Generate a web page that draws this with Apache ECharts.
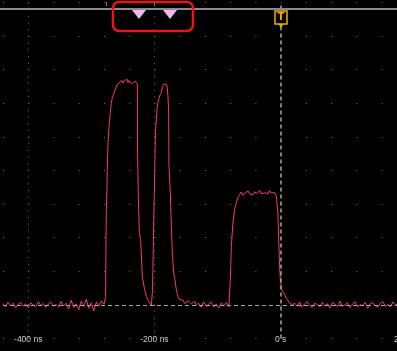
<!DOCTYPE html>
<html>
<head>
<meta charset="utf-8">
<script src="https://cdn.jsdelivr.net/npm/echarts@6/dist/echarts.min.js"></script>
<style>
  html, body { margin: 0; padding: 0; background: #000; }
  #scope { width: 397px; height: 351px; }
</style>
</head>
<body>
<div id="scope"></div>
<script>
// time in ns, level in mV (100 mV per division)
const noiseLeft = [
    [-440, 4], [-436, -6], [-432, 8], [-428, -3], [-424, 5], [-420, -9], [-416, 2], [-412, 7],
    [-408, -4], [-404, 3], [-400, -8], [-396, 6], [-392, 0], [-388, -5], [-384, 9], [-380, -2],
    [-376, 4], [-372, -7], [-368, 3], [-364, 8], [-360, -4], [-356, 1], [-352, -6], [-348, 10],
    [-344, -3], [-340, 5], [-336, -12], [-332, 14], [-328, -8], [-324, 3], [-320, -15], [-316, 11],
    [-312, -5], [-308, 17], [-304, -10], [-300, 6], [-296, -18], [-292, 9], [-288, -4], [-284, 12],
    [-280, 2]
];
const pulse1 = [
    [-277.3, 25], [-276.8, 185], [-276.2, 284], [-275.3, 343], [-274.8, 403], [-273.5, 484],
    [-271.9, 532], [-269.9, 572], [-268.3, 602], [-266.7, 617], [-264.7, 627], [-262.0, 642],
    [-259.4, 654], [-256.7, 660], [-253.6, 657], [-251.5, 668], [-249.9, 660], [-248.0, 666],
    [-246.1, 662], [-243.6, 672], [-242.0, 662], [-240.5, 668], [-239.3, 662], [-237.8, 657],
    [-236.6, 664], [-234.5, 659], [-232.5, 660], [-230.5, 666], [-228.7, 662], [-227.1, 657],
    [-226.8, 463], [-225.5, 323], [-223.9, 215], [-221.9, 194], [-220.3, 134], [-219.2, 84],
    [-216.6, 81], [-215.5, 45], [-212.8, 25], [-210.3, 15], [-207.6, 6], [-204.9, -3]
];
const pulse2 = [
    [-203.3, 36], [-202.4, 104], [-201.3, 234], [-200.2, 334], [-199.2, 433], [-198.9, 463],
    [-198.1, 522], [-196.0, 577], [-194.5, 602], [-191.8, 622], [-189.1, 632], [-187.5, 647],
    [-185.4, 657], [-183.4, 662], [-181.1, 657], [-179.6, 647], [-178.6, 622], [-177.5, 577],
    [-177.0, 418], [-174.8, 333], [-173.2, 234], [-171.6, 155], [-169.6, 96], [-167.5, 75],
    [-165.3, 45], [-162.8, 25], [-160.1, 15], [-157.4, 10], [-154.8, 15], [-152.0, 4],
    [-149.4, 6], [-146.5, 12], [-144.2, 10], [-141.5, 3], [-139.0, 6], [-136.0, 11], [-133.6, 0]
];
const noiseMid = [
    [-130, 5], [-126, -7], [-122, 9], [-118, -4], [-114, 2], [-110, 8], [-106, -6],
    [-102, 3], [-98, -9], [-94, 6], [-90, -2], [-86, 7], [-82, -5]
];
const pulse3 = [
    [-80.8, -5], [-79.7, 75], [-78.1, 174], [-75.6, 244], [-72.9, 284], [-70.2, 304],
    [-67.7, 319], [-65.0, 328], [-62.5, 336], [-59.7, 326], [-57.0, 333], [-54.4, 331],
    [-51.5, 339], [-49.0, 330], [-46.4, 334], [-43.5, 328], [-41.0, 337], [-38.5, 331],
    [-36.0, 334], [-33.0, 340], [-30.5, 330], [-28.0, 335], [-25.4, 334], [-22.5, 338],
    [-20.0, 331], [-17.4, 341], [-15.0, 333], [-12.0, 338], [-9.5, 335], [-6.8, 323],
    [-5.2, 328], [-4.3, 274], [-2.7, 174], [-1.6, 114], [0.0, 65], [2.1, 45], [5.2, 35],
    [9.0, 20], [14.3, 5], [19.5, 0]
];
const noiseRight = [
    [22, 6], [26, -4], [30, 9], [34, -7], [38, 3], [42, 10], [46, -2], [50, -8], [54, 5],
    [58, 1], [62, -6], [66, 8], [70, -3], [74, 4], [78, -9], [82, 7], [86, 2], [90, -5],
    [94, 11], [98, -4], [102, 0], [106, 6], [110, -8], [114, 3], [118, 9], [122, -6],
    [126, 1], [130, -3], [134, 8], [138, -10], [142, 4], [146, 7], [150, -2], [154, -7],
    [158, 5], [162, 10], [166, -4], [170, 2], [174, -6], [178, 9], [182, -1], [186, 3],
    [190, -8], [194, 6], [198, 12], [202, -5], [206, 1], [210, -3], [214, 7], [218, -9],
    [222, 4], [226, 8], [230, -2]
];
const majorTimes = [-400, -200, 200];

let trace = [].concat(noiseLeft, pulse1, pulse2, noiseMid, pulse3, noiseRight);

let chart = echarts.init(document.getElementById("scope"), null, { renderer: "canvas" });

let dotted = { color: "#6e6e6e", width: 1, type: [1, 5.7] };
let marks = majorTimes.map(t => ({ xAxis: t, lineStyle: dotted }));
marks.push({ xAxis: 0, lineStyle: { color: "#a6a6a6", width: 1.5, type: [4, 3] } });
marks.push({ yAxis: 0, lineStyle: { color: "#a6a6a6", width: 1, type: [4, 3] } });

let option = {
    backgroundColor: "#000",
    animation: false,
    // the screen is cut off at the right, so the grid runs past the canvas edge
    grid: { left: 3, top: 2.5, width: 424, height: 336, outerBoundsMode: "none", containLabel: false },
    xAxis: {
        type: "value",
        min: -440,
        max: 232,
        interval: 40,
        axisLine: { show: false },
        axisTick: { show: false },
        splitLine: { show: false },
        axisLabel: {
            color: "#cfcfcf",
            fontSize: 8.5,
            fontFamily: "Liberation Sans",
            margin: -3,
            backgroundColor: "#000",
            formatter: function (v) {
                if (v % 200 !== 0) return "";
                return v === 0 ? "0 s" : v + " ns";
            }
        }
    },
    yAxis: {
        type: "value",
        min: -100,
        max: 900,
        interval: 100,
        axisLine: { show: false },
        axisTick: { show: false },
        axisLabel: { show: false },
        splitLine: { show: true, lineStyle: { color: "#6e6e6e", width: 1, type: [1, 24.24] } }
    },
    series: [
        {
            type: "line",
            data: trace,
            showSymbol: false,
            lineStyle: { color: "#f23a6e", width: 1 },
            markLine: {
                silent: true,
                symbol: "none",
                label: { show: false },
                data: marks
            }
        }
    ],
    graphic: [
        { type: "line", shape: { x1: 0, y1: 9, x2: 397, y2: 9 }, style: { stroke: "#8c8c8c", lineWidth: 2 }, z: 100 },
        { type: "line", shape: { x1: 106.5, y1: 2, x2: 106.5, y2: 6 }, style: { stroke: "#c87400", lineWidth: 1 }, z: 100 },
        { type: "line", shape: { x1: 154.5, y1: 2, x2: 154.5, y2: 6 }, style: { stroke: "#c87400", lineWidth: 1 }, z: 100 },
        { type: "rect", shape: { x: 113, y: 2, width: 80, height: 29, r: 6 }, style: { fill: "none", stroke: "#e51616", lineWidth: 2.5 }, z: 101 },
        { type: "polygon", shape: { points: [[132, 10], [146, 10], [139, 19]] }, style: { fill: "#f5b3f0" }, z: 101 },
        { type: "polygon", shape: { points: [[163, 10], [177, 10], [170, 19]] }, style: { fill: "#f5b3f0" }, z: 101 },
        { type: "rect", shape: { x: 275, y: 11, width: 12, height: 13 }, style: { fill: "#000", stroke: "#f2b000", lineWidth: 1.5 }, z: 101 },
        { type: "polygon", shape: { points: [[278.5, 24], [283.5, 24], [281, 28]] }, style: { fill: "#f2b000" }, z: 101 },
        { type: "text", x: 281, y: 17.5, style: { text: "T", fill: "#f2b000", font: "bold 10px 'DejaVu Sans'", align: "center", verticalAlign: "middle" }, z: 102 }
    ]
};
chart.setOption(option);
</script>
</body>
</html>
